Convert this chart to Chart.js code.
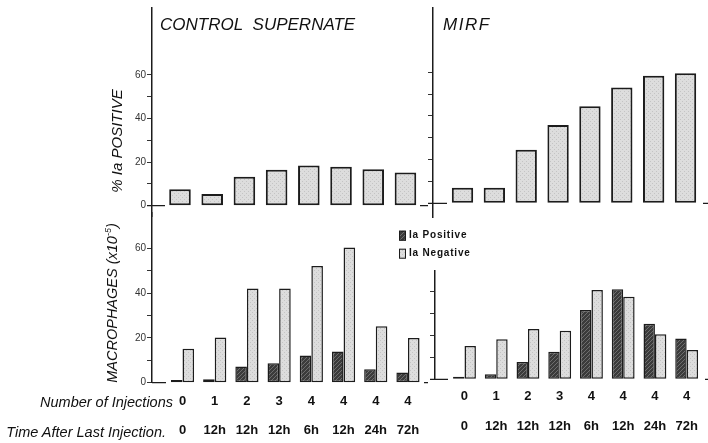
<!DOCTYPE html>
<html>
<head>
<meta charset="utf-8">
<script src="https://cdn.jsdelivr.net/npm/chart.js"></script>
<style>
html,body{margin:0;padding:0;background:#fff;}
body{width:708px;height:443px;position:relative;overflow:hidden;font-family:"Liberation Sans",Arial,sans-serif;color:#111;}
canvas{position:absolute;}
.t{position:absolute;white-space:nowrap;font-style:italic;line-height:1;color:#111;}
.rot{position:absolute;white-space:nowrap;font-style:italic;line-height:1;color:#111;transform:translate(-50%,-50%) rotate(-90deg);}
</style>
</head>
<body>
<canvas id="tl" width="328" height="210" style="left:100px;top:7px"></canvas>
<canvas id="tr" width="280" height="211" style="left:428px;top:7px"></canvas>
<canvas id="bl" width="380" height="231" style="left:100px;top:212px"></canvas>
<canvas id="br" width="278" height="173" style="left:430px;top:270px"></canvas>

<div class="t" style="left:160px;top:15.6px;font-size:17px;">CONTROL&nbsp;&nbsp;SUPERNATE</div>
<div class="t" style="left:443px;top:15.6px;font-size:17px;letter-spacing:1.5px;">MIRF</div>
<div class="rot" style="left:116px;top:141px;font-size:15px;">% Ia POSITIVE</div>
<div class="rot" style="left:112px;top:303px;font-size:14.5px;">MACROPHAGES (x10<sup style="font-size:9px;">-5</sup>)</div>
<div class="t" style="right:535px;top:394.5px;font-size:14.5px;">Number of Injections</div>
<div class="t" style="right:542px;top:424.5px;font-size:14.5px;">Time After Last Injection.</div>

<script>
// ---- data ----
const injections = ['0', '1', '2', '3', '4', '4', '4', '4'];
const times = ['0', '12h', '12h', '12h', '6h', '12h', '24h', '72h'];
const controlPctIaPositive = [7.5, 5.4, 13.3, 16.5, 18.4, 17.9, 16.7, 15.2];
const mirfPctIaPositive = [7.2, 7.2, 24.6, 35.9, 44.5, 53.0, 58.4, 59.6];
const controlIaPositive = [1.2, 1.5, 7.2, 8.7, 12.1, 13.9, 6.0, 4.5];
const controlIaNegative = [15.1, 20.2, 42.0, 42.0, 52.1, 60.4, 25.2, 20.0];
const mirfIaPositive = [1.2, 2.3, 7.9, 12.5, 31.5, 41.0, 25.3, 18.5];
const mirfIaNegative = [15.1, 18.2, 22.9, 22.1, 40.6, 37.5, 20.5, 13.3];
const yTickLabels = [0, 20, 40, 60];
const seriesNames = ['Ia Positive', 'Ia Negative'];

// ---- styling helpers ----
const ink = '#1c1c1c';
function makePattern(kind) {
  const c = document.createElement('canvas');
  c.width = 4; c.height = 4;
  const g = c.getContext('2d');
  if (kind === 'hatch') {
    g.fillStyle = '#3b3b3b'; g.fillRect(0, 0, 4, 4);
    g.fillStyle = '#6e6e6e';
    for (let i = 0; i < 4; i++) g.fillRect(i, 3 - i, 1, 1);
  } else {
    g.fillStyle = '#dddddd'; g.fillRect(0, 0, 4, 4);
    g.fillStyle = '#c4c4c4'; g.fillRect(0, 0, 1, 1); g.fillRect(2, 2, 1, 1);
  }
  return g.createPattern(c, 'repeat');
}
const hatch = makePattern('hatch');
const stipple = makePattern('stipple');

const toPoints = arr => arr.map((v, i) => ({ x: i, y: v }));

function yAxis(min, max, showLabels, width) {
  return {
    type: 'linear', min, max,
    afterBuildTicks: s => { s.ticks = s.ticks.filter(t => t.value >= 0 && t.value <= 60); },
    afterFit: s => { s.width = width; s.paddingTop = 0; s.paddingBottom = 0; },
    ticks: {
      stepSize: 10, includeBounds: false, display: showLabels, padding: 1,
      color: '#333', font: { family: 'Liberation Sans', size: 10 },
      callback: v => yTickLabels.includes(v) ? String(v) : ''
    },
    grid: { display: true, drawOnChartArea: false, drawTicks: true, tickLength: 5, color: '#333', lineWidth: 1 },
    border: { display: true, color: ink, width: 1.5 }
  };
}
function xHidden(min, max) {
  return { type: 'linear', display: false, min, max, offset: false, grid: { offset: false }, ticks: { stepSize: 1, includeBounds: false } };
}
function xLabelled(min, max, height, pad, lh) {
  return {
    type: 'linear', min, max, offset: false,
    afterFit: s => { s.height = height; s.paddingLeft = 0; s.paddingRight = 0; },
    grid: { display: false, drawTicks: false, offset: false },
    border: { display: false },
    ticks: {
      stepSize: 1, includeBounds: false, autoSkip: false, maxRotation: 0, minRotation: 0,
      padding: pad, color: '#111',
      font: { family: '"Liberation Sans Narrow", "Liberation Sans", sans-serif', size: 13, weight: 'bold', lineHeight: lh },
      callback: v => { const i = Math.round(v); return [injections[i] ?? '', times[i] ?? '']; }
    }
  };
}

const zeroDash = {
  id: 'zeroDash',
  afterDraw(chart, args, o) {
    if (!o || o.l1 === undefined) return;
    const y = chart.scales.y.getPixelForValue(0);
    const { left, right } = chart.chartArea;
    const ctx = chart.ctx;
    ctx.save();
    ctx.strokeStyle = ink; ctx.lineWidth = 1.3;
    ctx.beginPath();
    ctx.moveTo(left + o.l0, y); ctx.lineTo(left + o.l1, y);
    if (o.r > 0) { ctx.moveTo(right - o.r, y); ctx.lineTo(right, y); }
    ctx.stroke();
    ctx.restore();
  }
};

const boxLegend = {
  id: 'boxLegend',
  afterDraw(chart, args, o) {
    if (!o || !o.show) return;
    const ctx = chart.ctx;
    ctx.save();
    chart.data.datasets.forEach((ds, i) => {
      const y = o.y + i * o.gap;
      ctx.fillStyle = ds.backgroundColor;
      ctx.fillRect(o.x, y, o.w, o.h);
      ctx.strokeStyle = ink; ctx.lineWidth = 1;
      ctx.strokeRect(o.x + 0.5, y + 0.5, o.w - 1, o.h - 1);
      ctx.fillStyle = '#111';
      ctx.font = 'bold 10px "Liberation Sans"';
      if ('letterSpacing' in ctx) ctx.letterSpacing = '0.8px';
      ctx.textBaseline = 'middle';
      ctx.textAlign = 'left';
      ctx.fillText(ds.label, o.x + o.w + 3, y + o.h / 2);
    });
    ctx.restore();
  }
};
Chart.register(zeroDash, boxLegend);

function baseOptions(scales, padding, dash, legend) {
  return {
    responsive: false, animation: false, devicePixelRatio: 1,
    layout: { padding },
    scales,
    plugins: { legend: { display: false }, tooltip: { enabled: false }, zeroDash: dash, boxLegend: legend || { show: false } }
  };
}

function singleBars(label, values) {
  return {
    label, data: toPoints(values), backgroundColor: stipple, borderColor: ink,
    borderWidth: 2, borderSkipped: false, barPercentage: 0.67, categoryPercentage: 1
  };
}
function pairBars(pos, neg) {
  const common = { borderColor: ink, borderWidth: 1.5, borderSkipped: false, barPercentage: 1, categoryPercentage: 0.72 };
  return [
    Object.assign({ label: seriesNames[0], data: toPoints(pos), backgroundColor: hatch }, common),
    Object.assign({ label: seriesNames[1], data: toPoints(neg), backgroundColor: stipple }, common)
  ];
}

// Top-left: control supernate, % Ia positive
new Chart(document.getElementById('tl'), {
  type: 'bar',
  data: { datasets: [singleBars('% Ia positive', controlPctIaPositive)] },
  options: baseOptions({ x: xHidden(-0.869, 7.70), y: yAxis(-5.19, 91.2, true, 52) }, 0, { l0: -5, l1: 13, r: 8 })
});
// Top-right: MIRF, % Ia positive
new Chart(document.getElementById('tr'), {
  type: 'bar',
  data: { datasets: [singleBars('% Ia positive', mirfPctIaPositive)] },
  options: baseOptions({ x: xHidden(-0.926, 7.706), y: yAxis(-6.7, 89.9, false, 5) }, 0, { l0: -10, l1: 14, r: 5 })
});
// Bottom-left: control supernate, macrophages
new Chart(document.getElementById('bl'), {
  type: 'bar',
  data: { datasets: pairBars(controlIaPositive, controlIaNegative) },
  options: baseOptions({ x: xLabelled(-0.947, 7.622, 60.3, 3.8, 29 / 13), y: yAxis(0, 76.2, true, 52) },
    { right: 52 }, { l0: 0, l1: 14, r: 4 }, { show: true, x: 299, y: 18.7, w: 7, h: 10, gap: 18 })
});
// Bottom-right: MIRF, macrophages
new Chart(document.getElementById('br'), {
  type: 'bar',
  data: { datasets: pairBars(mirfIaPositive, mirfIaNegative) },
  options: baseOptions({ x: xLabelled(-0.929, 7.672, 63.7, 1.7, 30 / 13), y: yAxis(0, 49.7, false, 5) },
    0, { l0: -10, l1: 13, r: 3 })
});
</script>
</body>
</html>
